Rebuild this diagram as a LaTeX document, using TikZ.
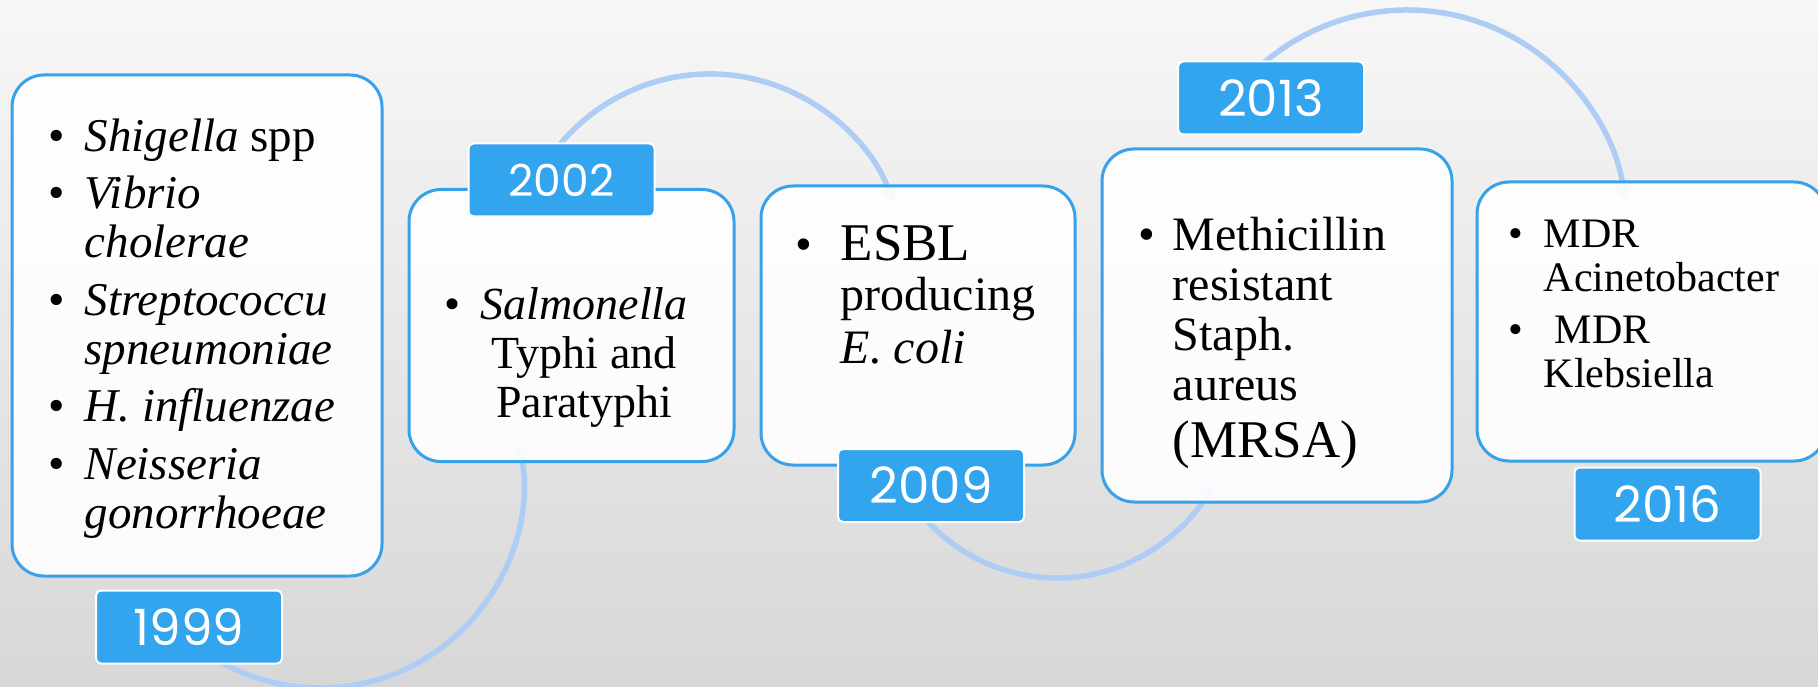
\documentclass[tikz,border=0pt]{standalone}
\usepackage{fontspec}
\setmainfont{Liberation Serif}
\newfontfamily\yearfont{Poppins}
\usetikzlibrary{arrows.meta,positioning}
\definecolor{tabblue}{HTML}{33A4EE}
\definecolor{edgeblue}{HTML}{36A2E9}
\definecolor{arcblue}{HTML}{ADCDF5}
\newcommand{\bl}{\textbullet}

\begin{document}
\begin{tikzpicture}[
  x=1pt,y=-1pt,
  node distance=12pt and 24pt,
  card/.style={draw=edgeblue,line width=3pt,rounded corners=32pt,fill=white,fill opacity=0.9,inner sep=0pt},
  yeartab/.style={draw=white,line width=2pt,fill=tabblue,rounded corners=5pt,text=white,minimum width=186pt,minimum height=73pt,inner sep=0pt,font=\yearfont\fontsize{50}{50}\selectfont},
  entry/.style={anchor=base west,inner sep=0pt,font=\fontsize{47}{49}\selectfont},
  link/.style={draw=arcblue,line width=5.5pt,-{Triangle[length=14pt,width=18pt]}}
]
\shade[top color={rgb,255:red,247;green,247;blue,247},bottom color={rgb,255:red,215;green,215;blue,215}] (0,0) rectangle (1818,687);
\useasboundingbox (0,0) rectangle (1818,687);

% wave behind the cards
\coordinate (c1) at (320,485);
\coordinate (c2) at (710,269);
\coordinate (c3) at (1057,402);
\coordinate (c4) at (1407,230);
\draw[link] (c1) ++(140:203) arc[start angle=140,end angle=-12,radius=203];
\draw[link] (c2) ++(200:195) arc[start angle=200,end angle=340,radius=195];
\draw[link] (c3) ++(148:176) arc[start angle=148,end angle=28,radius=176];
\draw[link] (c4) ++(215:220) arc[start angle=215,end angle=352,radius=220];

\node[card,minimum width=370pt,minimum height=501pt] (b1) at (197,325.5) {};
\node[card,minimum width=325pt,minimum height=272pt,right=of b1] (b2) {};
\node[card,minimum width=314pt,minimum height=279pt,right=of b2] (b3) {};
\node[card,minimum width=350pt,minimum height=353pt,right=of b3] (b4) {};
\node[card,minimum width=349pt,minimum height=279pt,right=22pt of b4,yshift=4pt] (b5) {};

\node[entry] (l1) at ([xshift=38pt,yshift=-78pt]b1.north west) {%
  \begin{tabular}[t]{@{}p{36pt}@{}l@{}}
  \bl & \textit{Shigella} spp\\[8.5pt]
  \bl & \textit{Vibrio}\\
      & \textit{cholerae}\\[8.5pt]
  \bl & \textit{Streptococcu}\\
      & \textit{spneumoniae}\\[8.5pt]
  \bl & \textit{H. influenzae}\\[8.5pt]
  \bl & \textit{Neisseria}\\
      & \textit{gonorrhoeae}
  \end{tabular}};
\node[entry,font=\fontsize{46}{49}\selectfont] (l2) at ([xshift=37pt,yshift=-131pt]b2.north west) {%
  \begin{tabular}[t]{@{}p{36pt}@{}c@{}}
  \bl & \textit{Salmonella}\\
      & Typhi and\\
      & Paratyphi
  \end{tabular}};
\node[entry,font=\fontsize{48}{50}\selectfont] (l3) at ([xshift=36pt,yshift=-76pt]b3.north west) {%
  \begin{tabular}[t]{@{}p{45pt}@{}l@{}}
  \bl & {\fontsize{53}{50}\selectfont ESBL}\\
      & producing\\[3pt]
      & \textit{E. coli}
  \end{tabular}};
\node[entry,font=\fontsize{48}{50}\selectfont] (l4) at ([xshift=38pt,yshift=-103pt]b4.north west) {%
  \begin{tabular}[t]{@{}p{34pt}@{}l@{}}
  \bl & Methicillin\\
      & resistant\\
      & Staph.\\
      & aureus\\[5pt]
      & {\fontsize{53}{50}\selectfont (MRSA)}
  \end{tabular}};
\node[entry,font=\fontsize{42}{44}\selectfont] (l5) at ([xshift=33pt,yshift=-67pt]b5.north west) {%
  \begin{tabular}[t]{@{}p{35pt}@{}l@{}}
  \bl & MDR\\
      & Acinetobacter\\[8pt]
  \bl & \hspace*{11pt}MDR\\
      & Klebsiella
  \end{tabular}};

\node[yeartab,below=of b1,xshift=-8pt] (y1999) {1999};
\node[yeartab,font=\yearfont\fontsize{44}{44}\selectfont] (y2002) at ([xshift=-10pt,yshift=8pt]b2.north) {2002};
\node[yeartab] (y2009) at ([xshift=13pt,yshift=-19pt]b3.south) {2009};
\node[yeartab,above=of b4,xshift=-6pt] (y2013) {2013};
\node[yeartab,below=4pt of b5,xshift=16pt] (y2016) {2016};
\end{tikzpicture}
\end{document}
